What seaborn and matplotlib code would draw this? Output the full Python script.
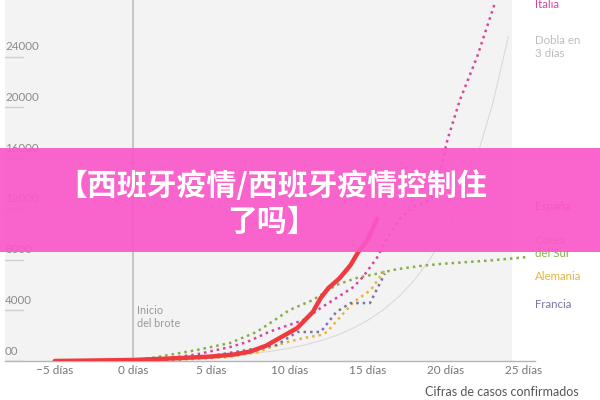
import matplotlib
matplotlib.use('Agg')
import matplotlib.pyplot as plt
import matplotlib.transforms as mtransforms
from matplotlib.patches import Rectangle
import seaborn as sns
import pandas as pd

sns.set_theme(style='white')
plt.rcParams['font.family'] = ['Lato', 'DejaVu Sans']

# ---- data ----
espana_days = [-5, 0, 3, 5, 6.5, 7.5, 8.5, 9.5, 10.5, 11.5, 12, 12.5, 13.2, 13.9, 14.4, 15, 15.6]
espana_vals = [0, 80, 230, 350, 520, 750, 1200, 1900, 2600, 3870, 4970, 5760, 6520, 7550, 8600, 9550, 11200]

italia_days = [0, 2, 4, 6.2, 7.3, 8.7, 10.9, 12, 13, 14.1, 14.7, 15.6, 16.2, 17.1, 17.9, 19, 19.4, 19.8, 20.1, 20.9, 22, 23.1]
italia_vals = [100, 200, 500, 1100, 1500, 2300, 3230, 4180, 4970, 5840, 6630, 8150, 9600, 11280, 12150, 12700, 13490, 15860, 17440, 20590, 24000, 28100]

corea_days = [0, 1.5, 4.1, 6.2, 7.9, 9.2, 10, 11.5, 13, 14.3, 15.8, 16.9, 18.4, 19.6, 21.4, 23, 25.2]
corea_vals = [50, 300, 870, 1420, 2290, 3350, 4020, 4810, 6000, 6550, 6940, 7250, 7500, 7650, 7810, 7950, 8200]

alemania_days = [0, 3, 6, 8, 8.8, 9.9, 10.9, 12, 12.4, 14.1, 15.2, 16.1]
alemania_vals = [20, 100, 300, 700, 1100, 1500, 1810, 2050, 2290, 4650, 5600, 7180]

francia_days = [0, 3, 5, 7.3, 9.2, 10.5, 12, 13, 13.9, 15.15, 16.1]
francia_vals = [20, 150, 400, 870, 1260, 2290, 2290, 3870, 4570, 4570, 6900]

dobla_days = list(range(0, 25))
dobla_vals = [100, 126, 159, 200, 252, 317, 400, 504, 635, 800, 1008, 1270, 1600,
              2016, 2540, 3200, 4032, 5080, 6400, 8063, 10159, 12800, 16127, 20319, 25600]

x_ticks = [-5, 0, 5, 10, 15, 20, 25]
x_labels = ['\u22125 días', '0 días', '5 días', '10 días', '15 días', '20 días', '25 días']
y_ticks = [0, 4000, 8000, 12000, 16000, 20000, 24000]
y_labels = ['00', '4000', '8000', '12000', '16000', '20000', '24000']

right_labels = ['Italia', 'Dobla en\n3 días', 'España', 'Corea\ndel Sur', 'Alemania', 'Francia']
right_label_y = [5, 47, 206, 247, 276, 305]
right_label_colors = ['#d6449c', '#bdbdbd', '#ea4a5a', '#86ad48', '#e5b53a', '#7a74a6']

title_text = '【西班牙疫情/西班牙疫情控制住\n了吗】'

# ---- figure ----
fig = plt.figure(figsize=(6, 4), dpi=100)
fig.patch.set_facecolor('white')
ax = fig.add_axes([5/600, 39/400, 530/600, 361/400])
ax.set_facecolor('white')
xmin, xmax = -8.18, 25.7
ax.set_xlim(xmin, xmax)
ax.set_ylim(0, 28480)
ax.axvspan(xmin, 24.2, color='#f3f3f3', lw=0, zorder=0)

# vertical "inicio" line
ax.axvline(0, color='#c8c8c8', lw=1.5, zorder=1)
ax.text(0.28, 4400, 'Inicio\ndel brote', color='#9a9a9a', fontsize=7.8,
        va='top', ha='left', linespacing=1.15, zorder=2)

# y labels with short underline
blend = mtransforms.blended_transform_factory(ax.transAxes, ax.transData)
for v, lab in zip(y_ticks, y_labels):
    ax.plot([0, 18/530], [v, v], color='#cfcfcf', lw=1, transform=blend, zorder=2)
    ax.text(0, v + 350, lab, transform=blend, ha='left', va='bottom',
            color='#8a8a8a', fontsize=8.3, zorder=2)

# lines
sns.lineplot(x=dobla_days, y=dobla_vals, ax=ax, color='#dadada', lw=0.8, zorder=3)
dotted = (0, (1, 1.6))
sns.lineplot(x=corea_days, y=corea_vals, ax=ax, color='#86ad48', lw=1.8, linestyle=dotted, zorder=4)
sns.lineplot(x=alemania_days, y=alemania_vals, ax=ax, color='#e5b53a', lw=1.8, linestyle=dotted, zorder=4)
sns.lineplot(x=francia_days, y=francia_vals, ax=ax, color='#7a74a6', lw=1.8, linestyle=dotted, zorder=4)
sns.lineplot(x=italia_days, y=italia_vals, ax=ax, color='#d6449c', lw=1.8, linestyle=dotted, zorder=5)
sns.lineplot(x=espana_days, y=espana_vals, ax=ax, color='#ef3b3f', lw=3.2, zorder=6,
             solid_capstyle='round')

# axes styling
ax.set_xticks(x_ticks)
ax.set_xticklabels(x_labels, color='#777777', fontsize=8.5)
ax.set_yticks([])
ax.tick_params(axis='x', length=0, pad=3)
for s in ['top', 'right', 'left']:
    ax.spines[s].set_visible(False)
ax.spines['bottom'].set_color('#b5b5b5')
ax.spines['bottom'].set_linewidth(1)
ax.set_xlabel('')
ax.set_ylabel('')

# right-hand labels
for lab, yy, col in zip(right_labels, right_label_y, right_label_colors):
    fig.text(535/600, 1 - yy/400, lab, color=col, fontsize=8.3, ha='left', va='center',
             linespacing=1.2)

fig.text(425/600, 1 - 386/400, 'Cifras de casos confirmados', color='#555555',
         fontsize=9, ha='left', va='top')

# banner overlay
fig.patches.append(Rectangle((0, 1 - 252/400), 1, 104/400, transform=fig.transFigure,
                             facecolor='#fa57c9', alpha=0.92, edgecolor='none', zorder=10))
fig.text(272/600, 1 - 203.5/400, title_text, color='white', fontsize=21.5,
         fontweight='heavy', family=['Noto Sans CJK SC', 'DejaVu Sans'],
         ha='center', va='center', multialignment='center', linespacing=1.25, zorder=11)

fig.savefig('out.png', dpi=100)
